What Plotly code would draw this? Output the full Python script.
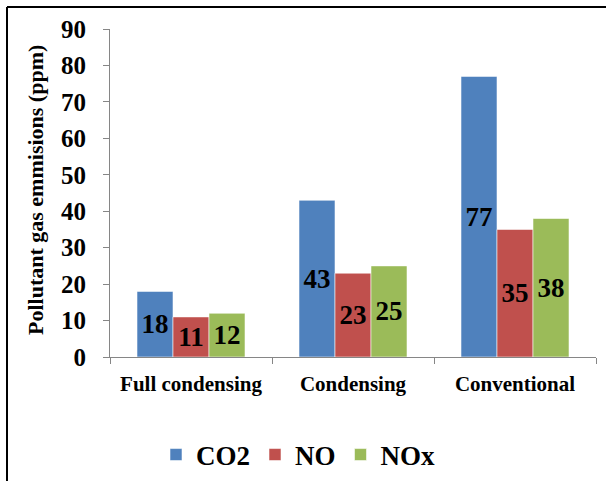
import plotly.graph_objects as go

# Boiler types and measured pollutant concentrations (ppm)
categories = ["Full condensing", "Condensing", "Conventional"]
co2 = [18, 43, 77]
no = [11, 23, 35]
nox = [12, 25, 38]

series = [
    ("CO2", co2, "#4F81BD"),
    ("NO", no, "#C0504D"),
    ("NOx", nox, "#9BBB59"),
]

FONT = "Liberation Serif"


def bold(s):
    return "<b>" + s + "</b>"


fig = go.Figure()
for name, vals, color in series:
    fig.add_trace(go.Bar(
        name=bold(name),
        x=categories,
        y=vals,
        text=[bold(str(v)) for v in vals],
        textposition="inside",
        insidetextanchor="middle",
        constraintext="none",
        textangle=0,
        textfont=dict(family=FONT, size=27, color="black"),
        marker=dict(color=color, line=dict(color="rgba(255,255,255,0.55)", width=1)),
    ))

W, H = 606, 481
L, R, T, B = 110, 10, 29, 124
pw, ph = W - L - R, H - T - B


def px(x):
    return (x - L) / pw


def py(y):
    return (H - B - y) / ph


fig.update_layout(
    width=W, height=H,
    margin=dict(l=L, r=R, t=T, b=B, autoexpand=False),
    paper_bgcolor="white",
    plot_bgcolor="white",
    barmode="group",
    bargap=1 / 3,
    bargroupgap=0,
    font=dict(family=FONT, color="black"),
    showlegend=True,
    legend=dict(
        orientation="h",
        x=px(298), y=py(455),
        xanchor="center", yanchor="middle",
        font=dict(family=FONT, size=27, color="black"),
        itemwidth=30,
        traceorder="normal",
    ),
    xaxis=dict(
        type="category",
        showline=True, linecolor="#868686", linewidth=1,
        ticks="outside", ticklen=6, tickcolor="#868686",
        tickson="boundaries",
        showgrid=False,
        tickvals=categories,
        ticktext=[bold(c) for c in categories],
        tickfont=dict(family=FONT, size=21, color="black"),
        ticklabelstandoff=8,
    ),
    yaxis=dict(
        range=[0, 90], dtick=10,
        showline=True, linecolor="#868686", linewidth=1,
        ticks="outside", ticklen=6, tickcolor="#868686",
        showgrid=False, zeroline=False,
        tickprefix="<b>", ticksuffix="</b>",
        tickfont=dict(family=FONT, size=25, color="black"),
        ticklabelstandoff=12,
    ),
    annotations=[
        dict(
            text=bold("Pollutant gas emmisions (ppm)"),
            xref="paper", yref="paper",
            x=px(35), y=py(190),
            xanchor="center", yanchor="middle",
            textangle=-90, showarrow=False,
            font=dict(family=FONT, size=22, color="black"),
        )
    ],
    shapes=[
        # outer frame: top and left edges
        dict(type="line", xref="paper", yref="paper",
             x0=px(7), x1=px(606), y0=py(7), y1=py(7),
             line=dict(color="black", width=2)),
        dict(type="line", xref="paper", yref="paper",
             x0=px(7), x1=px(7), y0=py(7), y1=py(481),
             line=dict(color="black", width=2)),
    ],
)

fig.write_html("out.html")
